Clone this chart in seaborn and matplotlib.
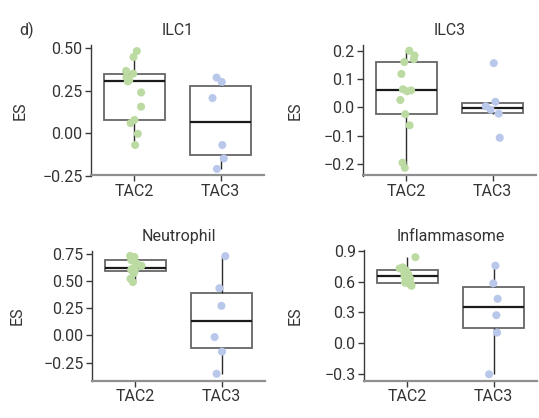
import matplotlib
matplotlib.use('Agg')
import matplotlib.pyplot as plt
import numpy as np
import pandas as pd
import seaborn as sns

sns.set_theme(style='ticks')
plt.rcParams['font.family'] = ['Roboto', 'DejaVu Sans']

groups = ['TAC2', 'TAC3']
panel_titles = ['ILC1', 'ILC3', 'Neutrophil', 'Inflammasome']

ilc1_tac2 = [-0.070, -0.004, 0.059, 0.078, 0.156, 0.240, 0.305, 0.312, 0.330, 0.351, 0.367, 0.449, 0.484]
ilc1_tac3 = [-0.211, -0.149, -0.070, 0.207, 0.302, 0.328]
ilc3_tac2 = [-0.213, -0.195, -0.063, -0.024, 0.026, 0.057, 0.060, 0.064, 0.118, 0.160, 0.170, 0.183, 0.200]
ilc3_tac3 = [-0.107, -0.022, -0.008, 0.004, 0.020, 0.156]
neut_tac2 = [0.49, 0.52, 0.57, 0.59, 0.60, 0.61, 0.62, 0.64, 0.66, 0.69, 0.70, 0.72, 0.73]
neut_tac3 = [-0.354, -0.150, -0.016, 0.271, 0.433, 0.728]
infl_tac2 = [0.56, 0.57, 0.58, 0.59, 0.63, 0.65, 0.67, 0.69, 0.71, 0.73, 0.74, 0.84]
infl_tac3 = [-0.304, 0.103, 0.273, 0.433, 0.584, 0.757]

y_ticks = [
    [-0.25, 0.00, 0.25, 0.50],
    [-0.2, -0.1, 0.0, 0.1, 0.2],
    [-0.25, 0.00, 0.25, 0.50, 0.75],
    [-0.3, 0.0, 0.3, 0.6, 0.9],
]
y_fmt = ['{:.2f}', '{:.1f}', '{:.2f}', '{:.1f}']
y_lims = [(-0.25, 0.52), (-0.24, 0.22), (-0.42, 0.78), (-0.37, 0.905)]

panel_data = [
    (ilc1_tac2, ilc1_tac3),
    (ilc3_tac2, ilc3_tac3),
    (neut_tac2, neut_tac3),
    (infl_tac2, infl_tac3),
]

point_colors = {'TAC2': '#bcdba2', 'TAC3': '#b8c7ea'}
text_color = '#333333'
fs = 11.5

W, H = 539, 418
rects = [
    (91, 45, 173, 130.5),
    (363, 45, 173, 130.5),
    (92, 250.5, 173, 130.5),
    (364, 250.5, 173, 130.5),
]
label_x = [-0.364, -0.347, -0.387, -0.353]

fig = plt.figure(figsize=(W / 100, H / 100), dpi=100)
np.random.seed(3)

for i, (title, (a, b)) in enumerate(zip(panel_titles, panel_data)):
    left, top, w, h = rects[i]
    ax = fig.add_axes([left / W, 1 - (top + h) / H, w / W, h / H])
    df = pd.DataFrame({
        'group': ['TAC2'] * len(a) + ['TAC3'] * len(b),
        'ES': list(a) + list(b),
    })
    sns.boxplot(
        data=df, x='group', y='ES', order=groups, ax=ax,
        width=0.7, showfliers=False, showcaps=False, color='white',
        boxprops={'edgecolor': '#666666', 'linewidth': 1.3, 'facecolor': 'white'},
        whiskerprops={'color': '#2b2b2b', 'linewidth': 1.0},
        medianprops={'color': '#1a1a1a', 'linewidth': 1.6},
    )
    sns.stripplot(
        data=df, x='group', y='ES', order=groups, ax=ax, hue='group',
        palette=point_colors, legend=False, jitter=0.1, size=5.8,
        linewidth=0, zorder=3,
    )
    ax.set_xlim(-0.5, 1.5)
    ax.set_ylim(*y_lims[i])
    ax.set_yticks(y_ticks[i])
    ax.set_yticklabels([y_fmt[i].format(t).replace('-', '\u2212') for t in y_ticks[i]])
    ax.set_xlabel('')
    ax.set_ylabel('ES', color=text_color, fontsize=fs)
    ax.yaxis.set_label_coords(label_x[i], 0.5)
    ax.set_title(title, color=text_color, fontsize=fs, pad=7)
    sns.despine(ax=ax)
    ax.spines['left'].set_color('#3a3a3a')
    ax.spines['bottom'].set_color('#8f8f8f')
    ax.spines['left'].set_linewidth(1.0)
    ax.spines['bottom'].set_linewidth(1.6)
    ax.tick_params(axis='both', colors='#3a3a3a', labelcolor=text_color,
                   labelsize=fs, length=4, width=1.0, pad=2)

fig.text(19 / W, 1 - 30 / H, 'd)', color=text_color, fontsize=fs, va='center', ha='left')

fig.savefig('out.png', dpi=100)
